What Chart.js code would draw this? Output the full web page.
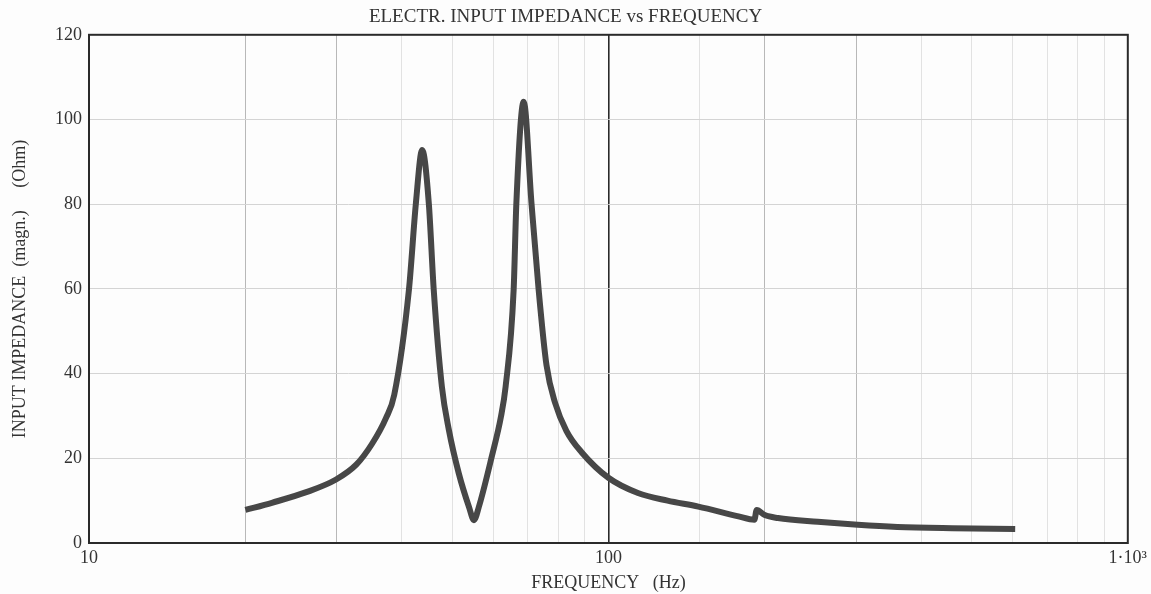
<!DOCTYPE html>
<html>
<head>
<meta charset="utf-8">
<script src="https://cdn.jsdelivr.net/npm/chart.js@4/dist/chart.umd.min.js"></script>
<style>
  html, body { margin: 0; padding: 0; background: #fdfdfd; }
  #wrap { width: 1151px; height: 594px; }
</style>
</head>
<body>
<div id="wrap"><canvas id="grafic"></canvas></div>
<script>
// Frequencia (Hz) i impedancia (Ohm) llegides del grafic
const freq = [20, 22.5, 26.2, 29.9, 32.7, 35.1, 37.3, 38.7, 41.3, 42.6,
  43.8, 45.1, 46.1, 47.8, 49.3, 51.5, 53.9, 55.1, 56.3, 59.6,
  62.1, 63.4, 65.7, 66.5, 68.7, 71.1, 73.4, 76, 79, 83,
  88.7, 100, 114, 130, 149, 178, 191, 193, 200, 212,
  253, 302, 360, 459, 607];
const impedance = [7.8, 9.5, 12.0, 15.0, 18.5, 23.5, 29.5, 35, 59.8, 80.3,
  92.8, 80.3, 59.8, 36.9, 26.7, 16.5, 8.5, 5.4, 8.5, 20.3,
  29.8, 36.9, 59.8, 80.3, 104.2, 80.3, 59.8, 42, 33, 26.5,
  21.5, 15.4, 11.8, 10.0, 8.6, 6.3, 5.5, 7.8, 6.6, 5.9,
  5.0, 4.3, 3.8, 3.5, 3.3];
const yTicks = [0, 20, 40, 60, 80, 100, 120];
const xLabels = { 10: '10', 100: '100', 1000: '1\u00b710\u00b3' };

const serif = "'Liberation Serif', 'DejaVu Serif', serif";
const textColor = '#333';

// Marc del grafic
const borderPlugin = {
  id: 'frame',
  afterDraw(chart) {
    const a = chart.chartArea;
    const c = chart.ctx;
    c.save();
    c.strokeStyle = '#2a2a2a';
    c.lineWidth = 2;
    c.strokeRect(a.left, a.top, a.right - a.left, a.bottom - a.top);
    c.restore();
  }
};

function gridColor(ctx) {
  const v = ctx.tick ? Math.round(ctx.tick.value) : 0;
  if (v === 100) return '#2a2a2a';
  if (v === 20 || v === 30 || v === 200 || v === 300) return '#b8b8b8';
  return '#e2e2e2';
}

const ctx = document.getElementById('grafic');
new Chart(ctx, {
  type: 'line',
  data: {
    datasets: [{
      data: freq.map((f, i) => ({ x: f, y: impedance[i] })),
      borderColor: '#474747',
      borderWidth: 6,
      pointRadius: 0,
      cubicInterpolationMode: 'monotone',
      fill: false
    }]
  },
  options: {
    responsive: true,
    maintainAspectRatio: false,
    animation: false,
    layout: { padding: { left: 0, right: 20, top: 0, bottom: 0 } },
    plugins: {
      legend: { display: false },
      tooltip: { enabled: false },
      title: {
        display: true,
        text: 'ELECTR. INPUT IMPEDANCE vs FREQUENCY',
        color: textColor,
        font: { family: serif, size: 19, weight: 'normal' },
        padding: { top: 6, bottom: 6 }
      }
    },
    scales: {
      x: {
        type: 'logarithmic',
        min: 10,
        max: 1000,
        afterFit: s => { s.height = 51; },
        border: { display: false },
        grid: { color: gridColor, lineWidth: c => (c.tick && Math.round(c.tick.value) === 100 ? 1.6 : 1), drawTicks: false },
        ticks: {
          autoSkip: false,
          maxRotation: 0,
          padding: 4,
          color: textColor,
          font: { family: serif, size: 18 },
          callback: v => xLabels[Math.round(v)] || ''
        },
        title: {
          display: true,
          text: 'FREQUENCY   (Hz)',
          color: textColor,
          font: { family: serif, size: 18 },
          padding: { top: 0, bottom: 0 }
        }
      },
      y: {
        min: 0,
        max: 120,
        afterFit: s => { s.width = 89; },
        afterBuildTicks: s => { s.ticks = yTicks.map(v => ({ value: v })); },
        border: { display: false },
        grid: { color: '#d4d4d4', drawTicks: false },
        ticks: {
          padding: 7,
          color: textColor,
          font: { family: serif, size: 18 }
        },
        title: {
          display: true,
          text: 'INPUT IMPEDANCE  (magn.)     (Ohm)',
          color: textColor,
          font: { family: serif, size: 18 },
          padding: { top: 9, bottom: 0 }
        }
      }
    }
  },
  plugins: [borderPlugin]
});
</script>
</body>
</html>
